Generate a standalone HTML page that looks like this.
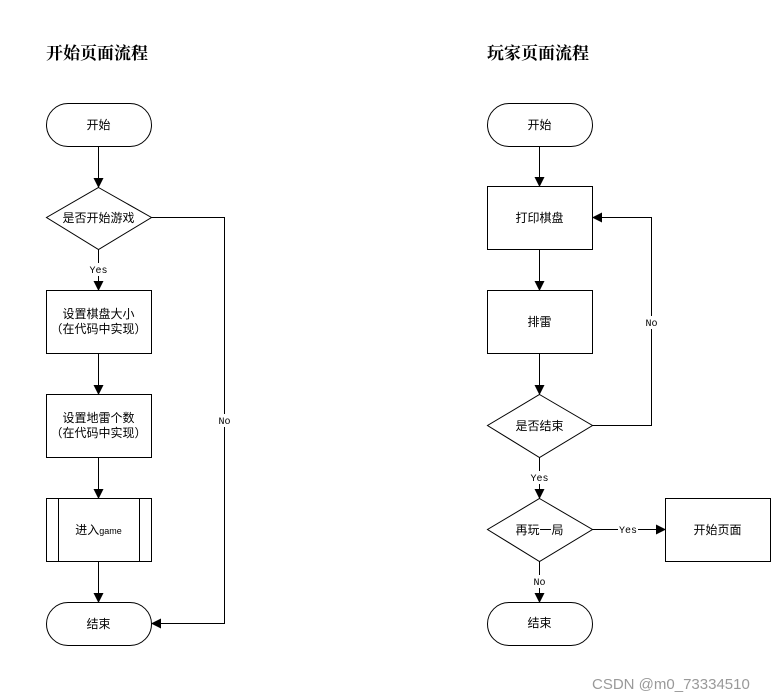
<!DOCTYPE html>
<html><head><meta charset="utf-8"><style>
html,body{margin:0;padding:0;background:#fff;width:782px;height:700px;overflow:hidden}
svg text{font-family:"Liberation Sans","Noto Sans CJK SC",sans-serif;font-size:12px;fill:#000}
.t{font-family:"Liberation Serif","Noto Serif CJK SC",serif;font-size:17px;font-weight:bold}
.l{font-family:"Liberation Mono","Noto Sans CJK SC",monospace;font-size:10px}
</style></head><body>
<svg width="782" height="700" viewBox="0 0 782 700" xmlns="http://www.w3.org/2000/svg">
<defs><marker id="a" markerWidth="10" markerHeight="10" refX="9" refY="5" orient="auto" markerUnits="userSpaceOnUse"><path d="M0,0 L10,5 L0,10 Z" fill="#000"/></marker></defs>
<g fill="none" stroke="#000" stroke-width="1">
<!-- left -->
<rect x="46.5" y="103.5" width="105" height="43" rx="21.5"/>
<path d="M98.5,187.5 L151.5,217.5 L98.5,249.5 L46.5,217.5 Z" fill="#fff"/>
<rect x="46.5" y="290.5" width="105" height="63"/>
<rect x="46.5" y="394.5" width="105" height="63"/>
<rect x="46.5" y="498.5" width="105" height="63"/>
<line x1="58.5" y1="498.5" x2="58.5" y2="561.5"/>
<line x1="139.5" y1="498.5" x2="139.5" y2="561.5"/>
<rect x="46.5" y="602.5" width="105" height="43" rx="21.5"/>
<line x1="98.5" y1="146.5" x2="98.5" y2="187" marker-end="url(#a)"/>
<line x1="98.5" y1="249.5" x2="98.5" y2="263"/>
<line x1="98.5" y1="276" x2="98.5" y2="290" marker-end="url(#a)"/>
<line x1="98.5" y1="353.5" x2="98.5" y2="394" marker-end="url(#a)"/>
<line x1="98.5" y1="457.5" x2="98.5" y2="498" marker-end="url(#a)"/>
<line x1="98.5" y1="561.5" x2="98.5" y2="602" marker-end="url(#a)"/>
<path d="M151.5,217.5 H224.5 V414"/>
<path d="M224.5,427 V623.5 H152" marker-end="url(#a)"/>
<!-- right -->
<rect x="487.5" y="103.5" width="105" height="43" rx="21.5"/>
<rect x="487.5" y="186.5" width="105" height="63"/>
<rect x="487.5" y="290.5" width="105" height="63"/>
<path d="M539.5,394.5 L592.5,425.5 L539.5,457.5 L487.5,425.5 Z"/>
<path d="M539.5,498.5 L592.5,529.5 L539.5,561.5 L487.5,529.5 Z"/>
<rect x="665.5" y="498.5" width="105" height="63"/>
<rect x="487.5" y="602.5" width="105" height="43" rx="21.5"/>
<line x1="539.5" y1="146.5" x2="539.5" y2="186" marker-end="url(#a)"/>
<line x1="539.5" y1="249.5" x2="539.5" y2="290" marker-end="url(#a)"/>
<line x1="539.5" y1="353.5" x2="539.5" y2="394" marker-end="url(#a)"/>
<line x1="539.5" y1="457.5" x2="539.5" y2="471"/>
<line x1="539.5" y1="484" x2="539.5" y2="498" marker-end="url(#a)"/>
<line x1="539.5" y1="561.5" x2="539.5" y2="575"/>
<line x1="539.5" y1="588" x2="539.5" y2="602" marker-end="url(#a)"/>
<path d="M592.5,425.5 H651.5 V329"/>
<path d="M651.5,316 V217.5 H593" marker-end="url(#a)"/>
<line x1="592.5" y1="529.5" x2="618" y2="529.5"/>
<line x1="638" y1="529.5" x2="665" y2="529.5" marker-end="url(#a)"/>
</g>
<text class="t" x="46" y="59">开始页面流程</text>
<text class="t" x="487" y="59">玩家页面流程</text>
<g text-anchor="middle">
<text x="98.5" y="129">开始</text>
<text x="98.5" y="222">是否开始游戏</text>
<text x="98.5" y="318">设置棋盘大小</text>
<text x="98.5" y="333">（在代码中实现）</text>
<text x="98.5" y="422">设置地雷个数</text>
<text x="98.5" y="437">（在代码中实现）</text>
<text x="98.5" y="534">进入<tspan style="font-size:9px">game</tspan></text>
<text x="98.5" y="628">结束</text>
<text x="539.5" y="129">开始</text>
<text x="539.5" y="222">打印棋盘</text>
<text x="539.5" y="326">排雷</text>
<text x="539.5" y="430">是否结束</text>
<text x="539.5" y="534">再玩一局</text>
<text x="717.5" y="534">开始页面</text>
<text x="539.5" y="627">结束</text>
<text class="l" x="98.5" y="273">Yes</text>
<text class="l" x="224.5" y="424">No</text>
<text class="l" x="651.5" y="326">No</text>
<text class="l" x="539.5" y="481">Yes</text>
<text class="l" x="628" y="533">Yes</text>
<text class="l" x="539.5" y="585">No</text>
</g>
<text x="592" y="689" style="font-size:15px;fill:#999">CSDN @m0_73334510</text>
</svg>
</body></html>
